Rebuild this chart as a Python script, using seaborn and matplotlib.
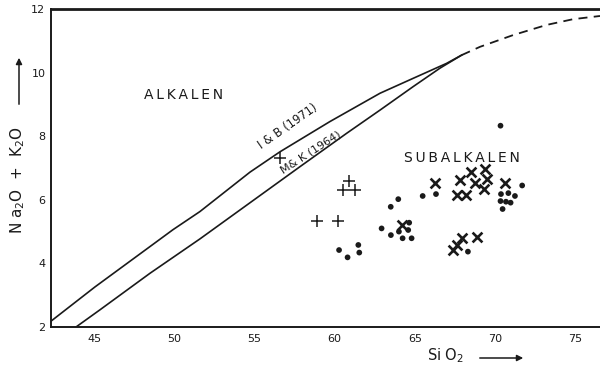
import matplotlib
matplotlib.use("Agg")
import matplotlib.pyplot as plt
import seaborn as sns

# SiO2 vs total alkalis (wt %)
plus_sio2 = [56.6, 60.9, 60.53, 61.26, 58.87, 60.22]
plus_alk = [7.31, 6.60, 6.31, 6.31, 5.34, 5.34]

dot_sio2 = [60.27, 60.8, 61.47, 61.53, 63.49, 63.96, 65.48, 66.31, 62.92, 63.50,
            64.64, 64.0, 64.23, 64.79, 64.58, 68.3, 70.33, 71.68, 70.36, 70.82,
            71.23, 70.33, 70.67, 70.96, 70.46]
dot_alk = [4.42, 4.19, 4.58, 4.34, 5.78, 6.02, 6.12, 6.18, 5.10, 4.89,
           5.28, 5.0, 4.79, 4.79, 5.05, 4.37, 8.33, 6.45, 6.18, 6.21,
           6.12, 5.96, 5.94, 5.91, 5.71]

cross_sio2 = [64.17, 66.25, 67.80, 68.47, 69.38, 68.74, 69.51, 67.59, 68.17, 69.30,
              70.61, 67.34, 67.64, 67.96, 68.84]
cross_alk = [5.21, 6.54, 6.62, 6.87, 6.96, 6.54, 6.64, 6.15, 6.15, 6.33,
             6.52, 4.42, 4.58, 4.79, 4.84]

# Alkaline / subalkaline dividing lines
ib_sio2 = [42.26, 45.06, 48.49, 49.92, 51.60, 54.72, 56.59, 59.70, 62.82, 64.89, 66.97, 67.91]
ib_alk = [2.16, 3.26, 4.53, 5.06, 5.63, 6.87, 7.51, 8.46, 9.35, 9.82, 10.29, 10.55]
mk_sio2 = [43.88, 45.37, 48.49, 51.60, 57.83, 60.74, 62.82, 64.89, 66.56, 67.91]
mk_alk = [2.0, 2.54, 3.69, 4.77, 7.04, 8.09, 8.82, 9.56, 10.14, 10.55]
ext_sio2 = [67.91, 69.05, 71.12, 73.21, 74.86, 76.53]
ext_alk = [10.55, 10.81, 11.18, 11.50, 11.68, 11.78]

x_ticks = [45, 50, 55, 60, 65, 70, 75]
y_ticks = [2, 4, 6, 8, 10, 12]

sns.set_theme(style="white")
plt.rcParams["font.family"] = ["DejaVu Sans"]

fig = plt.figure(figsize=(6.0, 3.67), dpi=100)
ax = fig.add_axes([0.085, 0.109, 0.915, 0.8665])

ink = "#1a1a1a"
sns.lineplot(x=ib_sio2, y=ib_alk, ax=ax, color=ink, lw=1.2, sort=False, estimator=None)
sns.lineplot(x=mk_sio2, y=mk_alk, ax=ax, color=ink, lw=1.2, sort=False, estimator=None)
sns.lineplot(x=ext_sio2, y=ext_alk, ax=ax, color=ink, lw=1.3, sort=False,
             estimator=None, linestyle=(0, (5, 3.5)))

sns.scatterplot(x=dot_sio2, y=dot_alk, ax=ax, color=ink, s=17, marker="o",
                edgecolor="none", zorder=3)
sns.scatterplot(x=plus_sio2, y=plus_alk, ax=ax, color=ink, s=70, marker="+",
                linewidth=1.1, zorder=3)
sns.scatterplot(x=cross_sio2, y=cross_alk, ax=ax, color=ink, s=50, marker="x",
                linewidth=1.9, zorder=3)

ax.set_xlim(42.32, 76.53)
ax.set_ylim(2, 12)
ax.set_xticks(x_ticks)
ax.set_yticks(y_ticks)
ax.set_xticklabels([str(v) for v in x_ticks])
ax.set_yticklabels([str(v) for v in y_ticks])
ax.tick_params(axis="both", direction="inout", length=4, width=1.0, color=ink,
               labelsize=8, labelcolor=ink, pad=2)
ax.tick_params(axis="x", pad=3)
ax.set_xlabel("")
ax.set_ylabel("")

for side in ("left", "bottom", "top"):
    ax.spines[side].set_color(ink)
ax.spines["left"].set_linewidth(1.4)
ax.spines["bottom"].set_linewidth(1.4)
ax.spines["top"].set_linewidth(2.0)
ax.spines["right"].set_visible(False)

# Field names
ax.text(50.6, 9.30, "A\u2009L\u2009K\u2009A\u2009L\u2009E\u2009N", ha="center", va="center",
        fontsize=10, color=ink)
ax.text(67.9, 7.31, "S\u2009U\u2009B\u2009A\u2009L\u2009K\u2009A\u2009L\u2009E\u2009N",
        ha="center", va="center", fontsize=10, color=ink)

# Line labels
ax.text(57.1, 8.30, "I & B (1971)", ha="center", va="center", fontsize=8.3,
        rotation=35, rotation_mode="anchor", color=ink)
ax.text(58.5, 7.50, "M& K (1964)", ha="center", va="center", fontsize=8,
        rotation=33, rotation_mode="anchor", color=ink)

# Axis titles with arrows
fig.text(18 / 600, 1 - 180 / 367, r"N a$_2$O  +  K$_2$O", rotation=90,
         ha="center", va="center", fontsize=11, color=ink)
fig.add_artist(matplotlib.patches.FancyArrowPatch(
    (19 / 600, 1 - 107 / 367), (19 / 600, 1 - 55 / 367),
    transform=fig.transFigure, arrowstyle="-|>", mutation_scale=9,
    color=ink, lw=1.1))
fig.text(446 / 600, 1 - 356 / 367, r"Si O$_2$", ha="center", va="center",
         fontsize=10.5, color=ink)
fig.add_artist(matplotlib.patches.FancyArrowPatch(
    (477 / 600, 1 - 358 / 367), (526 / 600, 1 - 358 / 367),
    transform=fig.transFigure, arrowstyle="-|>", mutation_scale=9,
    color=ink, lw=1.1))

fig.savefig("out.png", dpi=100)
